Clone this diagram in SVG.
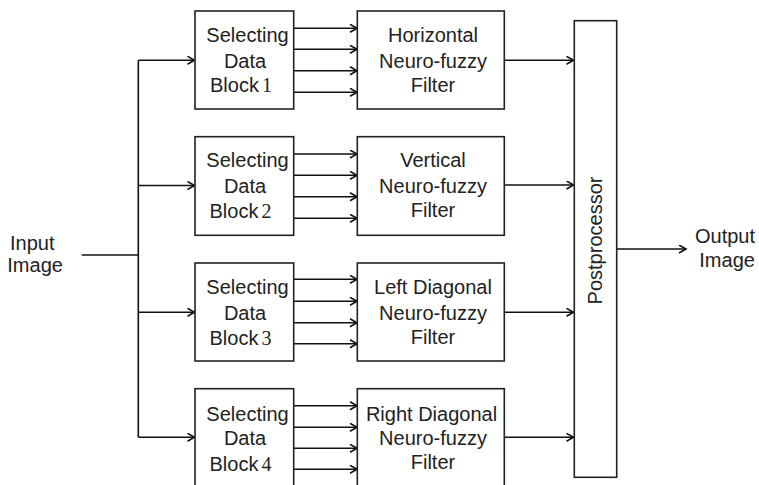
<svg xmlns="http://www.w3.org/2000/svg" width="759" height="485" viewBox="0 0 759 485">
  <style>
    .box { fill: #fff; stroke: #222; stroke-width: 1.6; }
    .wire { fill: none; stroke: #111; stroke-width: 1.6; }
    .arr { fill: none; stroke: #111; stroke-width: 1.6; marker-end: url(#head); }
    text { font-family: "Liberation Sans", Arial, sans-serif; font-size: 20px; fill: #222; }
    .c { text-anchor: middle; }
    .num { font-family: "Liberation Serif", "Times New Roman", serif; }
  </style>
  <defs>
    <marker id="head" markerWidth="10" markerHeight="10" refX="8" refY="4.5" orient="auto" markerUnits="userSpaceOnUse">
      <path d="M1,0.5 L8,4.5 L1,8.5" fill="none" stroke="#111" stroke-width="1.6"/>
    </marker>
  </defs>

  <rect width="759" height="485" fill="#fff"/>

  <!-- connectors -->
  <g id="connectors">
    <!-- input trunk -->
    <path class="wire" d="M81.7,255 H138.3"/>
    <path class="wire" d="M138.3,60.3 V437.3"/>
    <path class="arr" d="M138.3,60.3 H194.5"/>
    <path class="arr" d="M138.3,185.5 H194.5"/>
    <path class="arr" d="M138.3,312.3 H194.5"/>
    <path class="arr" d="M138.3,437.3 H194.5"/>

    <!-- block 1 to horizontal filter -->
    <path class="arr" d="M293.7,28.3 H357"/>
    <path class="arr" d="M293.7,49.3 H357"/>
    <path class="arr" d="M293.7,70.7 H357"/>
    <path class="arr" d="M293.7,92.3 H357"/>
    <!-- block 2 to vertical filter -->
    <path class="arr" d="M293.7,154 H357"/>
    <path class="arr" d="M293.7,175.3 H357"/>
    <path class="arr" d="M293.7,196.7 H357"/>
    <path class="arr" d="M293.7,218.3 H357"/>
    <!-- block 3 to left diagonal filter -->
    <path class="arr" d="M293.7,279.3 H357"/>
    <path class="arr" d="M293.7,301.3 H357"/>
    <path class="arr" d="M293.7,322.7 H357"/>
    <path class="arr" d="M293.7,343.7 H357"/>
    <!-- block 4 to right diagonal filter -->
    <path class="arr" d="M293.7,405.7 H357"/>
    <path class="arr" d="M293.7,427.3 H357"/>
    <path class="arr" d="M293.7,448.3 H357"/>
    <path class="arr" d="M293.7,469.3 H357"/>

    <!-- filters to postprocessor -->
    <path class="arr" d="M504.3,60.3 H573.5"/>
    <path class="arr" d="M504.3,185 H573.5"/>
    <path class="arr" d="M504.3,312.3 H573.5"/>
    <path class="arr" d="M504.3,437.3 H573.5"/>

    <!-- output -->
    <path class="arr" d="M616.7,249 H686"/>
  </g>

  <!-- input / output labels -->
  <g id="input">
    <text x="10" y="250">Input</text>
    <text x="7.3" y="272.3">Image</text>
  </g>
  <g id="output">
    <text x="695" y="243.3">Output</text>
    <text x="699.3" y="266.7">Image</text>
  </g>

  <!-- selecting data blocks -->
  <g id="select1">
    <rect class="box" x="195" y="11" width="98.7" height="98"/>
    <text class="c" x="247.5" y="41.7">Selecting</text>
    <text class="c" x="245" y="67.5">Data</text>
    <text x="210" y="92.3">Block<tspan class="num" dx="3">1</tspan></text>
  </g>
  <g id="select2">
    <rect class="box" x="195" y="136.7" width="98.7" height="98.6"/>
    <text class="c" x="247.5" y="167.3">Selecting</text>
    <text class="c" x="245" y="193">Data</text>
    <text x="209.5" y="218">Block<tspan class="num" dx="3">2</tspan></text>
  </g>
  <g id="select3">
    <rect class="box" x="195" y="263" width="98.7" height="98"/>
    <text class="c" x="247.5" y="294">Selecting</text>
    <text class="c" x="245" y="319.5">Data</text>
    <text x="209.5" y="344.5">Block<tspan class="num" dx="3">3</tspan></text>
  </g>
  <g id="select4">
    <rect class="box" x="195" y="388.7" width="98.7" height="100"/>
    <text class="c" x="247.5" y="420.7">Selecting</text>
    <text class="c" x="245" y="445">Data</text>
    <text x="209.5" y="471">Block<tspan class="num" dx="3">4</tspan></text>
  </g>

  <!-- neuro-fuzzy filters -->
  <g id="filterH">
    <rect class="box" x="357.3" y="11" width="147" height="98"/>
    <text class="c" x="433" y="41.7">Horizontal</text>
    <text class="c" x="433" y="67.7">Neuro-fuzzy</text>
    <text class="c" x="433" y="91.7">Filter</text>
  </g>
  <g id="filterV">
    <rect class="box" x="357.3" y="136.7" width="147" height="98.6"/>
    <text class="c" x="433" y="166.7">Vertical</text>
    <text class="c" x="433" y="193.3">Neuro-fuzzy</text>
    <text class="c" x="433" y="217.3">Filter</text>
  </g>
  <g id="filterL">
    <rect class="box" x="357.3" y="263" width="147" height="98"/>
    <text class="c" x="433" y="293.5">Left Diagonal</text>
    <text class="c" x="433" y="319.7">Neuro-fuzzy</text>
    <text class="c" x="433" y="343.7">Filter</text>
  </g>
  <g id="filterR">
    <rect class="box" x="357.3" y="388.7" width="147" height="100"/>
    <text class="c" x="431.5" y="420.7">Right Diagonal</text>
    <text class="c" x="433" y="445.3">Neuro-fuzzy</text>
    <text class="c" x="433" y="469.3">Filter</text>
  </g>

  <!-- postprocessor -->
  <g id="postprocessor">
    <rect class="box" x="574.3" y="20.7" width="42.4" height="456.6"/>
    <text class="c" transform="translate(602,240.5) rotate(-90)">Postprocessor</text>
  </g>
</svg>
